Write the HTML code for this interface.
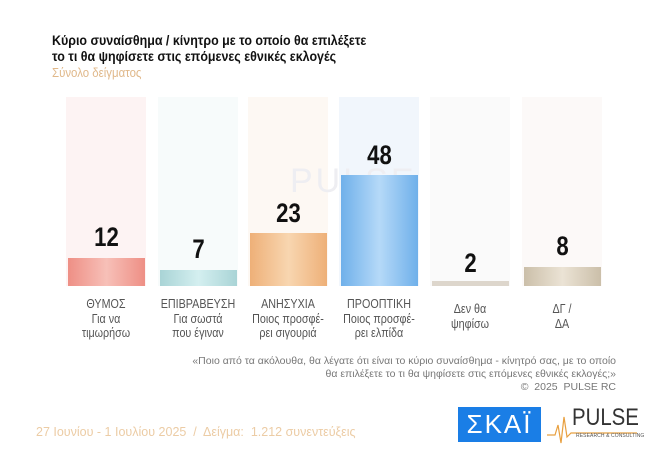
<!DOCTYPE html>
<html><head><meta charset="utf-8"><style>
body{margin:0;background:#fff;}
#c{position:relative;width:650px;height:467px;overflow:hidden;background:#fff;font-family:"Liberation Sans",sans-serif;}
.a{position:absolute;}
.t{left:52px;font-weight:bold;font-size:14px;color:#111;white-space:nowrap;transform:scaleX(0.89);transform-origin:0 0;}
.panel{top:97px;height:189px;width:80px;}
.bar{width:77px;}
.num{width:77px;text-align:center;font-weight:bold;font-size:27px;color:#111;transform:scaleX(0.82);}
.lab{width:100px;text-align:center;font-size:12.5px;line-height:14.5px;color:#555;transform:scaleX(0.86);}
.q{right:34px;text-align:right;font-size:10.5px;color:#777;line-height:13px;white-space:nowrap;}
</style></head><body><div id="c">
<div class="a t" style="top:32px">Κύριο συναίσθημα / κίνητρο με το οποίο θα επιλέξετε</div>
<div class="a t" style="top:48px">το τι θα ψηφίσετε στις επόμενες εθνικές εκλογές</div>
<div class="a" style="left:52px;top:65px;font-size:13px;color:#e0b88a;transform:scaleX(0.88);transform-origin:0 0">Σύνολο δείγματος</div>

<div class="a panel" style="left:66px;background:#fdf3f3"></div>
<div class="a panel" style="left:158px;background:#f7fbfb"></div>
<div class="a panel" style="left:248px;background:#fdf8f3"></div>
<div class="a panel" style="left:339px;background:#f1f6fc"></div>
<div class="a panel" style="left:430px;background:#fafafa"></div>
<div class="a panel" style="left:522px;background:#fcf9f8"></div>

<div class="a" style="left:290px;top:162px;font-size:34px;color:#eeeef2;letter-spacing:3px">PULSE</div>

<div class="a bar" style="left:68px;top:258px;height:28px;background:linear-gradient(90deg,#ee8f85,#f7c0b8,#ee8f85)"></div>
<div class="a bar" style="left:160px;top:270px;height:16px;background:linear-gradient(90deg,#a9d4d6,#d4eff0,#a9d4d6)"></div>
<div class="a bar" style="left:250px;top:233px;height:53px;background:linear-gradient(90deg,#eeb078,#f8d6b0,#eeb078)"></div>
<div class="a bar" style="left:341px;top:175px;height:111px;background:linear-gradient(90deg,#6fb0ea,#b5d9f8,#6fb0ea)"></div>
<div class="a bar" style="left:432px;top:281px;height:5px;background:#ddd6cc"></div>
<div class="a bar" style="left:524px;top:267px;height:19px;background:linear-gradient(90deg,#cbbfa9,#ebe3d5,#cbbfa9)"></div>

<div class="a num" style="left:68px;top:222px">12</div>
<div class="a num" style="left:160px;top:234px">7</div>
<div class="a num" style="left:250px;top:198px">23</div>
<div class="a num" style="left:341px;top:140px">48</div>
<div class="a num" style="left:432px;top:248px">2</div>
<div class="a num" style="left:524px;top:231px">8</div>

<div class="a lab" style="left:56px;top:297px">ΘΥΜΟΣ<br>Για να<br>τιμωρήσω</div>
<div class="a lab" style="left:148px;top:297px">ΕΠΙΒΡΑΒΕΥΣΗ<br>Για σωστά<br>που έγιναν</div>
<div class="a lab" style="left:238px;top:297px">ΑΝΗΣΥΧΙΑ<br>Ποιος προσφέ-<br>ρει σιγουριά</div>
<div class="a lab" style="left:329px;top:297px">ΠΡΟΟΠΤΙΚΗ<br>Ποιος προσφέ-<br>ρει ελπίδα</div>
<div class="a lab" style="left:420px;top:302px">Δεν θα<br>ψηφίσω</div>
<div class="a lab" style="left:512px;top:302px">ΔΓ /<br>ΔΑ</div>

<div class="a q" style="top:355px">«Ποιο από τα ακόλουθα, θα λέγατε ότι είναι το κύριο συναίσθημα - κίνητρό σας, με το οποίο<br>θα επιλέξετε το τι θα ψηφίσετε στις επόμενες εθνικές εκλογές;»<br>©&nbsp; 2025&nbsp; PULSE RC</div>

<div class="a" style="left:36px;top:425px;font-size:12.5px;color:#ecccA5;white-space:nowrap">27 Ιουνίου - 1 Ιουλίου 2025&nbsp; /&nbsp; Δείγμα:&nbsp; 1.212 συνεντεύξεις</div>

<div class="a" style="left:458px;top:407px;width:83px;height:35px;background:#1a7ee6;color:#fff;font-size:26px;line-height:35px;text-align:center;letter-spacing:2px">ΣΚΑΪ</div>
<svg class="a" style="left:547px;top:407px" width="95" height="40"><polyline points="0,28 8,28 11,18 14,36 17,10 20,30 24,26 90,26" fill="none" stroke="#e8a040" stroke-width="1.2"/></svg>
<div class="a" style="left:572px;top:404px;font-size:24px;color:#333;transform:scaleX(0.85);transform-origin:0 0">PULSE</div>
<div class="a" style="left:576px;top:433px;font-size:5px;color:#555;letter-spacing:0.1px">RESEARCH &amp; CONSULTING</div>
</div></body></html>
